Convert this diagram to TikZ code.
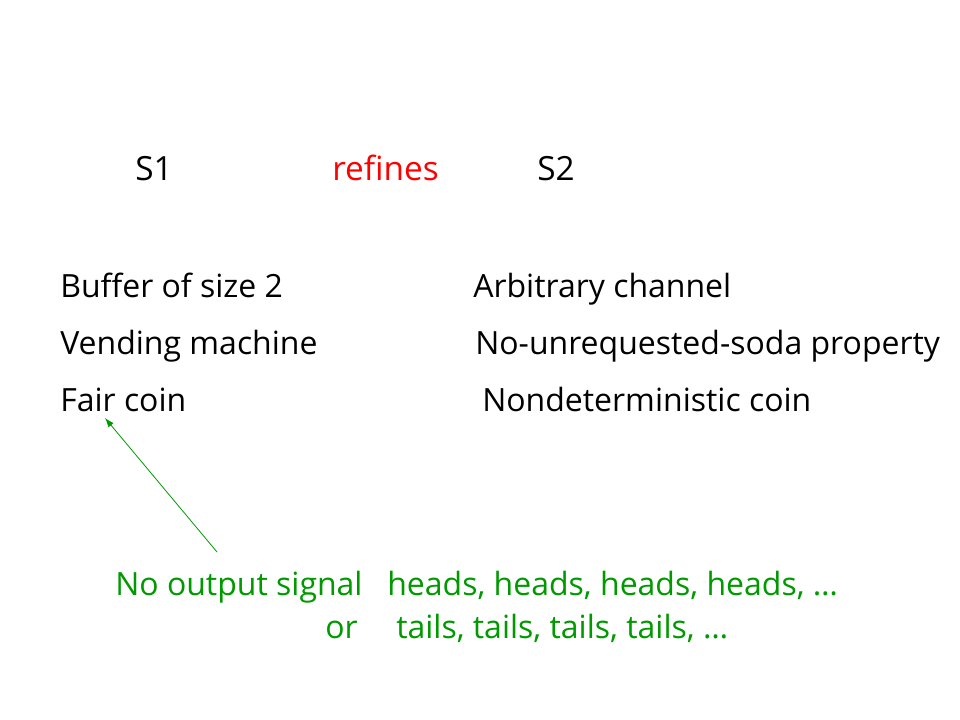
\documentclass[tikz,border=0pt]{standalone}
\usepackage{fontspec}
\setmainfont{Open Sans}
\usetikzlibrary{arrows.meta}
\definecolor{slidegreen}{HTML}{009900}
\definecolor{slidered}{HTML}{FF0000}
\tikzset{
  lbl/.style={anchor=base west, inner sep=0pt, font=\fontsize{24}{28}\selectfont},
  ttl/.style={anchor=base west, inner sep=0pt, font=\fontsize{25}{30}\selectfont},
  grn/.style={lbl, text=slidegreen},
  ptr/.style={draw=slidegreen, line width=0.6pt, -{Latex[length=7pt,width=5pt]}}
}
\begin{document}
\begin{tikzpicture}[x=0.75pt,y=-0.75pt]
\useasboundingbox (0,0) rectangle (960,720);
\node[ttl] (s1) at (135,181) {S1};
\node[ttl, text=slidered] (ref) at (332,181) {refines};
\node[ttl] (s2) at (537,181) {S2};
\node[lbl] (buf) at (60,297) {Buffer of size 2};
\node[lbl] (arb) at (473,297) {Arbitrary channel};
\node[lbl] (vend) at (60,354) {Vending machine};
\node[lbl] (nous) at (475,354) {No-unrequested-soda property};
\node[lbl] (fair) at (60,411) {Fair coin};
\node[lbl] (nond) at (482,411) {Nondeterministic coin};
\node[grn] (nosig) at (115,595) {No output signal};
\node[grn] (heads) at (387,595) {heads, heads, heads, heads, …};
\node[grn] (or) at (325,638) {or};
\node[grn] (tails) at (396,638) {tails, tails, tails, tails, …};
\coordinate (atail) at (217,552);
\coordinate (ahead) at (105,418);
\draw[ptr] (atail) -- (ahead);
\end{tikzpicture}
\end{document}
